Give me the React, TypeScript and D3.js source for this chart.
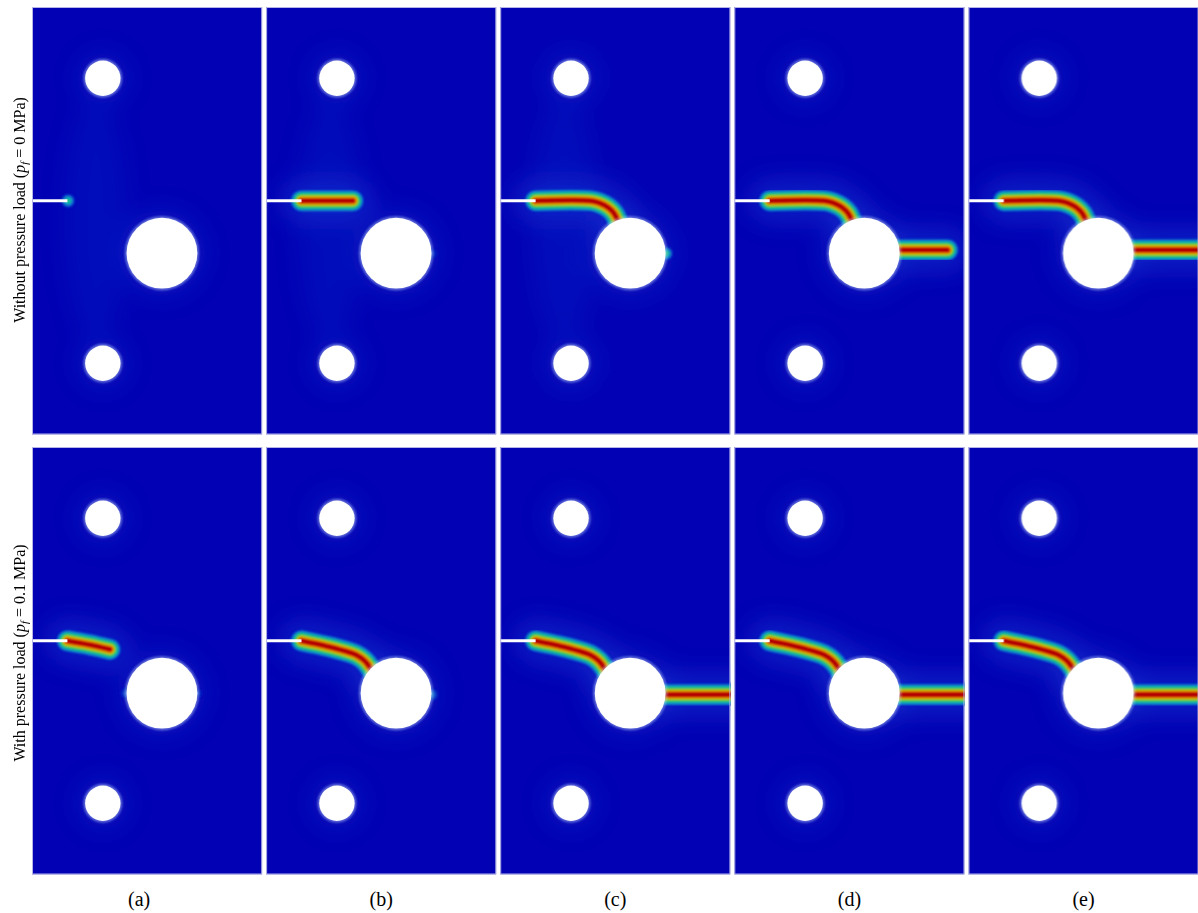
import * as d3 from 'd3'

const WIDTH = 1198
const HEIGHT = 913

// plate geometry in mm (origin top-left, y down)
const PLATE_W = 65
const PLATE_H = 120

const panelLabels = ['(a)', '(b)', '(c)', '(d)', '(e)']
const rowLabels = [
  { prefix: 'Without pressure load (', value: '0 MPa)' },
  { prefix: 'With pressure load (', value: '0.1 MPa)' }
]

const holes = [
  { cx: 20, cy: 20, r: 5 },
  { cx: 36.7, cy: 69.1, r: 10 },
  { cx: 20, cy: 100, r: 5 }
]
const notchLength = 10
const notchY = 54.4

// crack paths (mm)
type Pt = [number, number]
const crackTopB: Pt[] = [[10, 54.4], [24.5, 54.4]]
const crackTopLeft: Pt[] = [[10, 54.4], [25.5, 54.4], [28, 55], [30.5, 56.3], [32.2, 58], [33.4, 60.5], [34, 62]]
const crackTopRightD: Pt[] = [[45, 68.2], [60.2, 68.2]]
const crackTopRightE: Pt[] = [[45, 68.2], [67, 68.2]]
const crackBottomA: Pt[] = [[10, 54.4], [16.2, 55.5], [22, 56.8]]
const crackBottomLeft: Pt[] = [[10, 54.4], [17, 55.9], [22, 57.2], [25.5, 58.4], [27.8, 60], [29.4, 62], [30.6, 64]]
const crackBottomRight: Pt[] = [[45, 69.5], [67, 69.5]]

const topRowCracks: Pt[][][] = [
  [],
  [crackTopB],
  [crackTopLeft],
  [crackTopLeft, crackTopRightD],
  [crackTopLeft, crackTopRightE]
]
const bottomRowCracks: Pt[][][] = [
  [crackBottomA],
  [crackBottomLeft],
  [crackBottomLeft, crackBottomRight],
  [crackBottomLeft, crackBottomRight],
  [crackBottomLeft, crackBottomRight]
]

// weak damage spots: x, y (mm), peak phase-field value
const topRowSpots: [number, number, number][][] = [
  [[10.2, 54.4, 0.42]],
  [[46.8, 69.2, 0.12]],
  [[46.8, 69.2, 0.45]],
  [],
  []
]
const bottomRowSpots: [number, number, number][][] = [
  [[26.6, 69.1, 0.16], [46.8, 69.1, 0.1]],
  [[46.8, 69.5, 0.22]],
  [],
  [],
  []
]

const PANEL_X0 = 32
const PANEL_PITCH = 234.1
const PANEL_W = 230.2
const ROW_TOPS = [7, 447]
const PANEL_H = 427.5

const FONT = 'Liberation Serif, Times New Roman, DejaVu Serif, serif'

const jet = d3.scaleLinear<string>()
  .domain([0, 0.1, 0.25, 0.4, 0.5, 0.65, 0.78, 0.9, 1])
  .range(['#0202b4', '#0a3ccc', '#12a0cc', '#14c878', '#34c024', '#d8d800', '#f06000', '#d80000', '#b00000'])
  .interpolate(d3.interpolateRgb)

const levels = d3.range(0.04, 1.0001, 0.04)
const halfWidth = (c: number) => 1.9 + 10 * Math.pow(1 - c, 1.3)

const x = d3.scaleLinear().domain([0, PLATE_W]).range([0, PANEL_W])
const y = d3.scaleLinear().domain([0, PLATE_H]).range([0, PANEL_H])
const line = d3.line<Pt>().x(d => x(d[0])).y(d => y(d[1])).curve(d3.curveCatmullRom)

function Panel({ row, col, cracks, spots }: { row: number, col: number, cracks: Pt[][], spots: [number, number, number][] }) {
  const id = `clip-${row}-${col}`
  return (
    <g transform={`translate(${PANEL_X0 + col * PANEL_PITCH}, ${ROW_TOPS[row]})`}>
      <clipPath id={id}>
        <rect width={PANEL_W} height={PANEL_H} />
      </clipPath>
      <g clipPath={`url(#${id})`}>
        <rect width={PANEL_W} height={PANEL_H} fill={jet(0)} />

        {/* diffuse halo */}
        <g filter="url(#haze)">
          {row === 0 && col < 3 && (
            <ellipse cx={x(18)} cy={y(60)} rx={x(9)} ry={y(34)} fill="#2454e4" opacity={0.12} />
          )}
          {cracks.map((c, i) => (
            <path key={i} d={line(c) ?? ''} fill="none" stroke="#2a60ea" strokeOpacity={0.3}
              strokeWidth={40} strokeLinecap="round" strokeLinejoin="round" />
          ))}
          {holes.map((h, i) => (
            <circle key={i} cx={x(h.cx)} cy={y(h.cy)} r={x(h.r) + 8} fill="#2a60ea" opacity={0.18} />
          ))}
        </g>

        {/* phase field */}
        <g filter="url(#soft)">
          {cracks.map((c, i) => (
            <g key={i}>
              {levels.map(lv => (
                <path key={lv} d={line(c) ?? ''} fill="none" stroke={jet(lv)}
                  strokeWidth={2 * halfWidth(lv)} strokeLinecap="round" strokeLinejoin="round" />
              ))}
            </g>
          ))}
          {spots.map(([sx, sy, peak], i) => (
            <g key={i}>
              {levels.filter(lv => lv <= peak).map(lv => (
                <circle key={lv} cx={x(sx)} cy={y(sy)} r={0.8 + 7 * (1 - lv / peak)} fill={jet(lv)} />
              ))}
            </g>
          ))}
        </g>

        {/* holes */}
        {holes.map((h, i) => (
          <circle key={`g${i}`} cx={x(h.cx)} cy={y(h.cy)} r={x(h.r) + 1.8} fill="#c8dcff" opacity={0.45} filter="url(#soft)" />
        ))}
        {holes.map((h, i) => (
          <circle key={i} cx={x(h.cx)} cy={y(h.cy)} r={x(h.r)} fill="#ffffff" />
        ))}

        {/* notch */}
        <line x1={-2} x2={x(notchLength)} y1={y(notchY)} y2={y(notchY)} stroke="#ffffff" strokeWidth={3} />
      </g>
      <rect x={0.5} y={0.5} width={PANEL_W - 1} height={PANEL_H - 1} fill="none" stroke="#b4b4e6" strokeWidth={1} />
    </g>
  )
}

export default function App() {
  return (
    <div style={{ position: 'absolute', left: 0, top: 0 }}>
      <svg width={WIDTH} height={HEIGHT} style={{ display: 'block', background: '#ffffff' }}>
        <defs>
          <filter id="soft" x="-20%" y="-20%" width="140%" height="140%">
            <feGaussianBlur stdDeviation={0.9} />
          </filter>
          <filter id="haze" x="-50%" y="-50%" width="200%" height="200%">
            <feGaussianBlur stdDeviation={12} />
          </filter>
        </defs>

        {panelLabels.map((_, col) => (
          <Panel key={`t${col}`} row={0} col={col} cracks={topRowCracks[col]} spots={topRowSpots[col]} />
        ))}
        {panelLabels.map((_, col) => (
          <Panel key={`b${col}`} row={1} col={col} cracks={bottomRowCracks[col]} spots={bottomRowSpots[col]} />
        ))}

        {/* row labels */}
        {rowLabels.map((r, i) => (
          <text key={i}
            transform={`translate(25, ${ROW_TOPS[i] + (i === 0 ? 203 : 206)}) rotate(-90)`}
            textAnchor="middle" fontFamily={FONT} fontSize={16} fill="#000">
            {r.prefix}
            <tspan fontStyle="italic">p</tspan>
            <tspan fontStyle="italic" fontSize={11} dy={3}>f</tspan>
            <tspan dy={-3}>{` = ${r.value}`}</tspan>
          </text>
        ))}

        {/* column labels */}
        {panelLabels.map((lab, col) => (
          <text key={lab}
            x={PANEL_X0 + col * PANEL_PITCH + PANEL_W / 2 - (col === 0 ? 8 : 0)}
            y={906}
            textAnchor="middle" fontFamily={FONT} fontSize={20} fill="#000">
            {lab}
          </text>
        ))}
      </svg>
    </div>
  )
}
